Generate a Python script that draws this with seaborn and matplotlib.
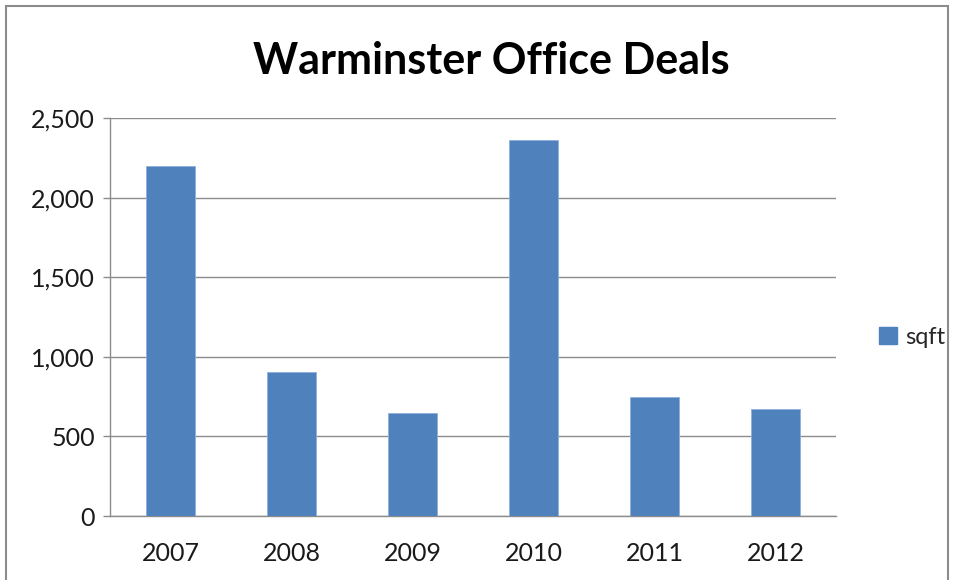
import pandas as pd
import numpy as np
import matplotlib.pyplot as plt
import seaborn as sns
from matplotlib import ticker
from matplotlib.patches import Rectangle, Patch

years = ['2007', '2008', '2009', '2010', '2011', '2012']
sqft = [2200, 905, 650, 2365, 745, 675]

df = pd.DataFrame({'year': years, 'sqft': sqft})

sns.set_style('white')
plt.rcParams['font.family'] = ['Lato', 'DejaVu Sans']

fig = plt.figure(figsize=(9.58, 5.8), dpi=100)
ax = fig.add_axes([0.1148, 0.1103, 0.7578, 0.6862])

sns.barplot(data=df, x='year', y='sqft', ax=ax, color='#4F81BD', saturation=1,
            width=0.4, edgecolor='#8DB0DC', linewidth=0.6, zorder=3)

ax.set_ylim(0, 2500)
ax.set_xlim(-0.5, 5.5)
ax.yaxis.set_major_locator(ticker.MultipleLocator(500))
ax.yaxis.set_major_formatter(ticker.FuncFormatter(lambda v, p: '{:,.0f}'.format(v)))
ax.grid(axis='y', color='#8C8C8C', linewidth=1.0, zorder=0)
ax.set_axisbelow(True)

# ticks between categories on x
ax.set_xticks(np.arange(len(years)))
ax.set_xticklabels(years)
ax.set_xticks(np.arange(-0.5, len(years)), minor=True)
ax.tick_params(axis='x', which='major', length=0, labelsize=18, pad=19, colors='#1a1a1a')
ax.tick_params(axis='x', which='minor', length=7, width=1, color='#8C8C8C', direction='out')
ax.tick_params(axis='y', length=5, width=1, color='#8C8C8C', labelsize=18, pad=6,
               direction='out', left=True, labelcolor='#1a1a1a')

for s in ['top', 'right']:
    ax.spines[s].set_visible(False)
for s in ['left', 'bottom']:
    ax.spines[s].set_color('#8C8C8C')
    ax.spines[s].set_linewidth(1.0)

ax.set_xlabel('')
ax.set_ylabel('')

fig.text(0.513, 0.895, 'Warminster Office Deals', ha='center', va='center',
         fontsize=31, fontweight='bold', color='black')

handle = Patch(facecolor='#4F81BD', edgecolor='#4F81BD')
fig.legend([handle], ['sqft'], loc='center left', bbox_to_anchor=(0.905, 0.418),
           frameon=False, fontsize=17, handlelength=0.75, handleheight=0.75,
           handletextpad=0.35, borderpad=0)

# chart area border
fig.patches.append(Rectangle((0.006, -0.05), 0.984, 1.04, transform=fig.transFigure,
                             fill=False, edgecolor='#8C8C8C', linewidth=1.5))

fig.savefig('out.png', dpi=100, facecolor='white')
